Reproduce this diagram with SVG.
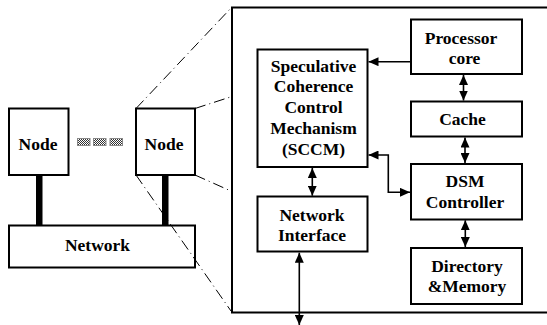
<svg xmlns="http://www.w3.org/2000/svg" width="547" height="325" viewBox="0 0 547 325" font-family="Liberation Serif, Times New Roman, DejaVu Serif, serif">
<defs>
<style>
.box{fill:#fff;stroke:#000;stroke-width:2}
.t{font-family:'Liberation Serif','Times New Roman','DejaVu Serif',serif;font-weight:bold;font-size:17.5px;text-anchor:middle;fill:#000}
.c{fill:none;stroke:#000;stroke-width:1.6}
.d{fill:none;stroke:#000;stroke-width:1;stroke-dasharray:11 4 1 4}
.bar{fill:#000}
.dots{fill:url(#chk);stroke:#888;stroke-width:1}
</style>
<pattern id="chk" width="2" height="2" patternUnits="userSpaceOnUse">
<rect width="2" height="2" fill="#fff"/>
<rect width="1" height="1" fill="#333"/>
<rect x="1" y="1" width="1" height="1" fill="#333"/>
</pattern>
<marker id="ah" markerUnits="userSpaceOnUse" markerWidth="10" markerHeight="9" refX="10" refY="4.5" orient="auto-start-reverse" viewBox="0 0 10 9">
<path d="M0,0 L10,4.5 L0,9 z" fill="#000"/>
</marker>
</defs>
<g id="big-node">
<rect class="box" x="232" y="7.5" width="320" height="305"/>
</g>
<g id="node1">
<rect class="box" x="9" y="108.5" width="59.5" height="66.5"/>
<text class="t" x="38" y="149.5">Node</text>
</g>
<g id="node2">
<rect class="box" x="136" y="108.5" width="59" height="66.5"/>
<text class="t" x="164" y="149.5">Node</text>
</g>
<g id="ellipsis">
<rect class="dots" x="77.5" y="138.5" width="12.5" height="7"/>
<rect class="dots" x="93.5" y="138.5" width="12.5" height="7"/>
<rect class="dots" x="110" y="138.5" width="12.5" height="7"/>
</g>
<g id="network">
<rect class="box" x="9" y="225.5" width="186" height="42"/>
<text class="t" x="97.5" y="250.5">Network</text>
</g>
<g id="processor-core">
<rect class="box" x="411" y="19.5" width="111" height="54.5"/>
<text class="t" x="461" y="43.5">Processor</text>
<text class="t" x="464.5" y="63.5">core</text>
</g>
<g id="sccm">
<rect class="box" x="257.5" y="49.5" width="110" height="117.5"/>
<text class="t" x="313.5" y="71.5">Speculative</text>
<text class="t" x="313.5" y="92.3">Coherence</text>
<text class="t" x="313.5" y="113.1">Control</text>
<text class="t" x="313.5" y="133.9">Mechanism</text>
<text class="t" x="313.5" y="154.7">(SCCM)</text>
</g>
<g id="cache">
<rect class="box" x="411" y="101.5" width="111" height="35"/>
<text class="t" x="462.5" y="125">Cache</text>
</g>
<g id="dsm">
<rect class="box" x="411" y="164" width="111" height="55.5"/>
<text class="t" x="465" y="187.3">DSM</text>
<text class="t" x="465" y="208.3">Controller</text>
</g>
<g id="network-interface">
<rect class="box" x="257.5" y="196.5" width="110" height="55"/>
<text class="t" x="312" y="220.7">Network</text>
<text class="t" x="312" y="241">Interface</text>
</g>
<g id="directory-memory">
<rect class="box" x="411" y="248" width="111" height="56"/>
<text class="t" x="467" y="271.7">Directory</text>
<text class="t" x="467" y="291.7">&amp;Memory</text>
</g>
<g id="connectors">
<rect class="bar" x="36" y="175" width="6.5" height="50.5"/>
<rect class="bar" x="162" y="175" width="6.5" height="50.5"/>
<line class="d" x1="136" y1="108.5" x2="232" y2="7"/>
<line class="d" x1="195" y1="108.5" x2="232" y2="96.5"/>
<line class="d" x1="195" y1="175" x2="232" y2="191.5"/>
<line class="d" x1="136" y1="175" x2="231" y2="311"/>
<line class="c" x1="411" y1="61.7" x2="368.5" y2="61.7" marker-end="url(#ah)"/>
<line class="c" x1="463.5" y1="75" x2="463.5" y2="100.5" marker-start="url(#ah)" marker-end="url(#ah)"/>
<line class="c" x1="465" y1="137.5" x2="465" y2="163" marker-start="url(#ah)" marker-end="url(#ah)"/>
<line class="c" x1="465.3" y1="220.3" x2="465.3" y2="247" marker-start="url(#ah)" marker-end="url(#ah)"/>
<line class="c" x1="312.3" y1="168" x2="312.3" y2="195.7" marker-start="url(#ah)" marker-end="url(#ah)"/>
<polyline class="c" points="368.5,155 388.3,155 388.3,192.3 410,192.3" marker-start="url(#ah)" marker-end="url(#ah)"/>
<line class="c" x1="299.3" y1="252.7" x2="299.3" y2="325" marker-start="url(#ah)" marker-end="url(#ah)"/>
</g>
</svg>
